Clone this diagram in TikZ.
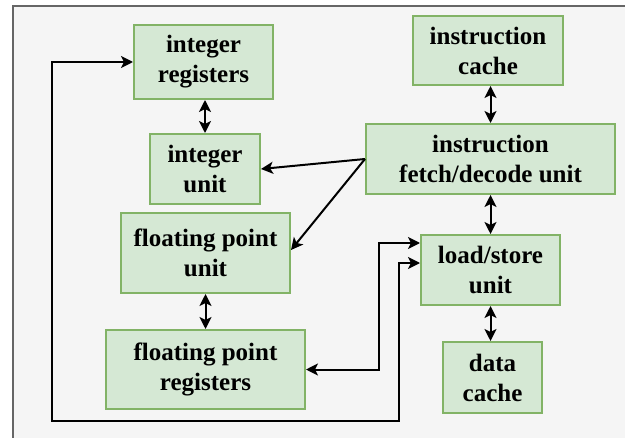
\documentclass[tikz,border=0pt]{standalone}
\usepackage{fontspec}
\setmainfont{Liberation Serif}
\usetikzlibrary{arrows.meta,calc}
\definecolor{boxfill}{HTML}{D5E8D4}
\definecolor{boxline}{HTML}{82B366}
\definecolor{bgfill}{HTML}{F5F5F5}
\definecolor{bgline}{HTML}{666666}
\tikzset{
  unitbox/.style={draw=boxline, fill=boxfill, line width=1pt, align=center,
    font=\fontsize{12.5}{15}\selectfont\bfseries, inner sep=0pt},
  conn/.style={line width=1pt, draw=black},
  tip/.style={-{Stealth[length=6pt,width=6pt,inset=1.5pt]}},
  dtip/.style={{Stealth[length=6pt,width=6pt,inset=1.5pt]}-{Stealth[length=6pt,width=6pt,inset=1.5pt]}}
}
\begin{document}
\begin{tikzpicture}[x=0.5pt,y=-0.5pt]
\clip (0,0) rectangle (625,438);
\useasboundingbox (0,0) rectangle (625,438);
\draw[fill=bgfill, draw=bgline, line width=1.2pt] (13,6) rectangle (660,470);

\node[unitbox, minimum width=69.5pt, minimum height=37pt] (intreg) at (203.5,62) {integer\\registers};
\node[unitbox, minimum width=55pt, minimum height=35pt] (intunit) at (205,169) {integer\\unit};
\node[unitbox, minimum width=84.5pt, minimum height=40pt] (fpunit) at (205.5,253) {floating point\\unit};
\node[unitbox, minimum width=99.5pt, minimum height=39.5pt] (fpreg) at (205.5,369.5) {floating point\\registers};
\node[unitbox, minimum width=75pt, minimum height=34.5pt] (icache) at (488,50.5) {instruction\\cache};
\node[unitbox, minimum width=124.5pt, minimum height=35pt] (fetch) at (490.5,159) {instruction\\fetch/decode unit};
\node[unitbox, minimum width=69.5pt, minimum height=35pt] (ls) at (490.5,270) {load/store\\unit};
\node[unitbox, minimum width=49.5pt, minimum height=35.5pt] (dcache) at (492.5,377.5) {data\\cache};

\draw[conn, dtip] (intunit.north |- intreg.south) -- (intunit.north);
\draw[conn, dtip] (fpunit.south) -- (fpunit.south |- fpreg.north);
\draw[conn, dtip] (fetch.north |- icache.south) -- (fetch.north);
\draw[conn, dtip] (fetch.south) -- (fetch.south |- ls.north);
\draw[conn, dtip] (ls.south) -- (ls.south |- dcache.north);

\draw[conn, tip] (fetch.west) -- (intunit.east);
\draw[conn, tip] (fetch.west) -- ([yshift=1.5pt]fpunit.east);

\coordinate (lsA) at ([yshift=13.5pt]ls.west);
\coordinate (lsB) at ([yshift=3.5pt]ls.west);
\coordinate (c1) at (379,243);
\coordinate (c2) at (399,263);
\coordinate (c3) at (399,421);
\coordinate (c4) at (52,421);

\draw[conn, dtip] (lsA) -- (c1) |- (fpreg.east);
\draw[conn, dtip] (lsB) -- (c2) -- (c3) -- (c4) |- (intreg.west);
\end{tikzpicture}
\end{document}
